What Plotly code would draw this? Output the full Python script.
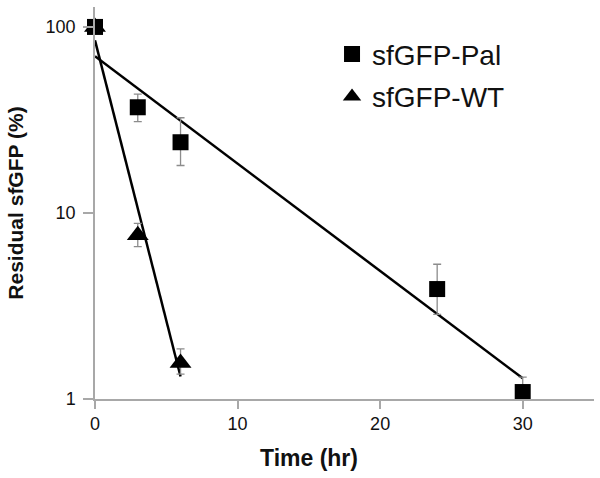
import numpy as np
import plotly.graph_objects as go

# ---- data ----
time_pal = [0, 3, 6, 24, 30]
resid_pal = [100, 37, 24, 3.9, 1.09]
err_pal_plus = [0, 6.5, 8.5, 1.4, 0.22]
err_pal_minus = [0, 6.0, 6.0, 1.05, 0.22]

time_wt = [0, 3, 6]
resid_wt = [100, 7.6, 1.56]
err_wt_plus = [0, 1.2, 0.3]
err_wt_minus = [0, 1.0, 0.2]

series_names = ["sfGFP-Pal", "sfGFP-WT"]
x_ticks = [0, 10, 20, 30]
y_ticks = [1, 10, 100]
y_tick_labels = ["1", "10", "100"]


def exp_fit(t, y):
    slope, intercept = np.polyfit(np.array(t, float), np.log(np.array(y, float)), 1)
    tt = np.array([min(t), max(t)], float)
    return tt, np.exp(intercept + slope * tt)


FONT = "Arial, Liberation Sans, sans-serif"
AXIS_GREY = "#a8a8a8"
ERR_GREY = "#8c8c8c"

fig = go.Figure()

fit_t_pal, fit_y_pal = exp_fit(time_pal, resid_pal)
fit_t_wt, fit_y_wt = exp_fit(time_wt, resid_wt)

fig.add_trace(go.Scatter(x=fit_t_pal, y=fit_y_pal, mode="lines",
                         line=dict(color="black", width=2.5),
                         showlegend=False, hoverinfo="skip", cliponaxis=False))
fig.add_trace(go.Scatter(x=fit_t_wt, y=fit_y_wt, mode="lines",
                         line=dict(color="black", width=2.5),
                         showlegend=False, hoverinfo="skip", cliponaxis=False))

fig.add_trace(go.Scatter(
    x=time_wt, y=resid_wt, mode="markers", name=series_names[1],
    legendgroup="b", legendrank=2,
    marker=dict(symbol="triangle-up", size=19, color="black"),
    error_y=dict(type="data", array=err_wt_plus, arrayminus=err_wt_minus,
                 color=ERR_GREY, thickness=1.3, width=4),
    cliponaxis=False))

fig.add_trace(go.Scatter(
    x=time_pal, y=resid_pal, mode="markers", name=series_names[0],
    legendgroup="a", legendrank=1,
    marker=dict(symbol="square", size=16, color="black"),
    error_y=dict(type="data", array=err_pal_plus, arrayminus=err_pal_minus,
                 color=ERR_GREY, thickness=1.3, width=4),
    cliponaxis=False))

fig.update_layout(
    width=600, height=478,
    margin=dict(l=95, r=6, t=7, b=79),
    paper_bgcolor="white", plot_bgcolor="white",
    font=dict(family=FONT, color="#111111"),
    showlegend=True,
    legend=dict(x=0.475, y=0.943, xanchor="left", yanchor="top",
                font=dict(size=28, family=FONT, color="#111111"),
                bgcolor="rgba(0,0,0,0)", traceorder="grouped",
                tracegroupgap=3, itemwidth=30),
    xaxis=dict(range=[0, 35], tickvals=x_ticks, showgrid=False, zeroline=False,
               showline=True, linecolor=AXIS_GREY, linewidth=1.5,
               ticks="outside", ticklen=8, tickcolor=AXIS_GREY, tickwidth=1.5,
               tickfont=dict(size=18, family=FONT, color="#111111")),
    yaxis=dict(type="log", range=[0, np.log10(128)], tickvals=y_ticks,
               ticktext=y_tick_labels, showgrid=False, zeroline=False,
               showline=True, linecolor=AXIS_GREY, linewidth=1.5,
               ticks="outside", ticklen=10, tickcolor=AXIS_GREY, tickwidth=1.5,
               ticklabelstandoff=4,
               tickfont=dict(size=18, family=FONT, color="#111111"),
               title=dict(text="<b>Residual sfGFP (%)</b>", standoff=16,
                          font=dict(size=21, family=FONT, color="#111111"))),
    annotations=[dict(text="<b>Time (hr)</b>", xref="paper", yref="paper",
                      x=(308.5 - 95) / 499, y=-(458 - 399) / 392,
                      xanchor="center", yanchor="middle", showarrow=False,
                      font=dict(size=23, family=FONT, color="#111111"))],
)

fig.write_html("out.html",
               config={"displayModeBar": False},
               post_script="document.body.style.margin='0';"
                           "document.body.style.overflow='hidden';")
